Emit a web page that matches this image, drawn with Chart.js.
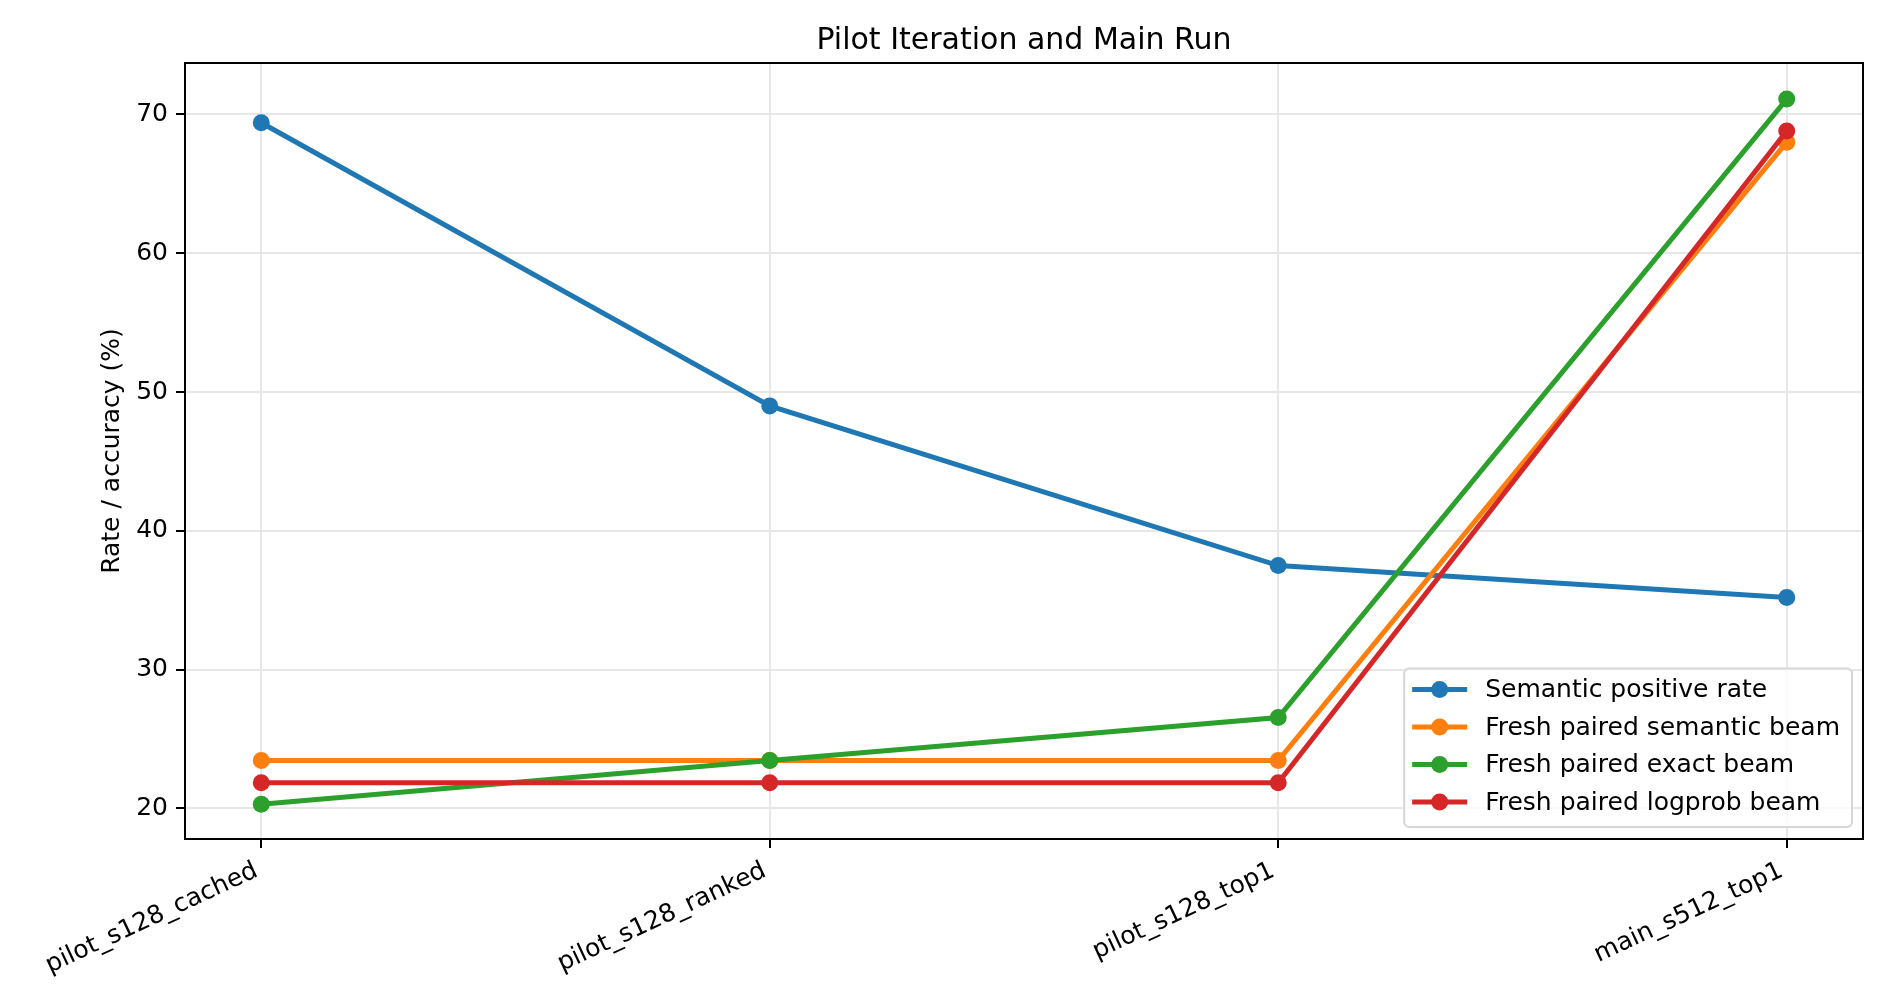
<!DOCTYPE html>
<html>
<head>
<meta charset="utf-8">
<title>Pilot Iteration and Main Run</title>
<script src="https://cdn.jsdelivr.net/npm/chart.js@4.4.1/dist/chart.umd.min.js"></script>
<style>
  html, body { margin: 0; padding: 0; background: #ffffff; }
  #wrap { width: 1890px; height: 1007px; }
</style>
</head>
<body>
<div id="wrap"><canvas id="runChart" width="1890" height="1007"></canvas></div>
<script>
// categories along the x axis
const runNames = ['pilot_s128_cached', 'pilot_s128_ranked', 'pilot_s128_top1', 'main_s512_top1'];

// series values (%)
const semanticPositive = [69.4, 49.0, 37.5, 35.2];
const freshSemanticBeam = [23.45, 23.45, 23.45, 68.0];
const freshExactBeam = [20.3, 23.45, 26.55, 71.1];
const freshLogprobBeam = [21.85, 21.85, 21.85, 68.8];

// y tick labels
const yTicks = [20, 30, 40, 50, 60, 70];

Chart.defaults.font.family = '"DejaVu Sans", sans-serif';
Chart.defaults.color = '#000000';

function toPoints(values) {
    return values.map(function(v, i) { return { x: i, y: v }; });
}

function lineSet(label, color, values, order) {
    return {
        label: label,
        data: toPoints(values),
        borderColor: color,
        backgroundColor: color,
        borderWidth: 5,
        pointRadius: 8.5,
        pointBorderWidth: 0,
        pointHoverRadius: 8.5,
        tension: 0,
        order: order
    };
}

// top and right spines
const framePlugin = {
    id: 'frame',
    afterDatasetsDraw(chart) {
        const a = chart.chartArea;
        const ctx = chart.ctx;
        ctx.save();
        ctx.strokeStyle = '#000000';
        ctx.lineWidth = 2;
        ctx.beginPath();
        ctx.moveTo(a.left, a.top);
        ctx.lineTo(a.right, a.top);
        ctx.lineTo(a.right, a.bottom);
        ctx.stroke();
        ctx.restore();
    }
};

// title centred over the plot area, like matplotlib does
const plotTitle = {
    id: 'plotTitle',
    afterDraw(chart, args, opts) {
        const a = chart.chartArea;
        const ctx = chart.ctx;
        ctx.save();
        ctx.font = '30px "DejaVu Sans"';
        ctx.fillStyle = '#000000';
        ctx.textAlign = 'center';
        ctx.textBaseline = 'alphabetic';
        ctx.fillText(opts.text, (a.left + a.right) / 2, a.top - 14);
        ctx.restore();
    }
};

// matplotlib style legend in lower right corner
const boxLegend = {
    id: 'boxLegend',
    afterDraw(chart) {
        const a = chart.chartArea;
        const ctx = chart.ctx;
        const sets = chart.data.datasets;
        ctx.save();
        ctx.font = '25px "DejaVu Sans"';
        let maxW = 0;
        sets.forEach(function(ds) { maxW = Math.max(maxW, ctx.measureText(ds.label).width); });
        const rowGap = 37.5;
        const w = 81 + maxW + 12;
        const h = 21 + (sets.length - 1) * rowGap + 25;
        const x0 = a.right - 11 - w;
        const y0 = a.bottom - 12 - h;

        ctx.beginPath();
        ctx.roundRect(x0, y0, w, h, 5);
        ctx.fillStyle = 'rgba(255,255,255,0.8)';
        ctx.fill();
        ctx.strokeStyle = '#d6d6d6';
        ctx.lineWidth = 2;
        ctx.stroke();

        sets.forEach(function(ds, i) {
            const cy = y0 + 21 + i * rowGap;
            ctx.strokeStyle = ds.borderColor;
            ctx.lineWidth = 5;
            ctx.beginPath();
            ctx.moveTo(x0 + 8, cy);
            ctx.lineTo(x0 + 63, cy);
            ctx.stroke();
            ctx.fillStyle = ds.borderColor;
            ctx.beginPath();
            ctx.arc(x0 + 35.5, cy, 8.5, 0, Math.PI * 2);
            ctx.fill();
            ctx.fillStyle = '#000000';
            ctx.textBaseline = 'middle';
            ctx.textAlign = 'left';
            ctx.fillText(ds.label, x0 + 81, cy + 1);
        });
        ctx.restore();
    }
};

const ctx = document.getElementById('runChart').getContext('2d');
const runChart = new Chart(ctx, {
    type: 'line',
    data: {
        datasets: [
            lineSet('Semantic positive rate', '#1f77b4', semanticPositive, 4),
            lineSet('Fresh paired semantic beam', '#ff7f0e', freshSemanticBeam, 3),
            lineSet('Fresh paired exact beam', '#2ca02c', freshExactBeam, 2),
            lineSet('Fresh paired logprob beam', '#d62728', freshLogprobBeam, 1)
        ]
    },
    options: {
        responsive: false,
        animation: false,
        devicePixelRatio: 1,
        layout: {
            padding: { left: 0, right: 27, top: 63, bottom: 0 }
        },
        scales: {
            x: {
                type: 'linear',
                min: -0.15,
                max: 3.15,
                afterBuildTicks: function(scale) {
                    scale.ticks = runNames.map(function(n, i) { return { value: i }; });
                },
                afterFit: function(scale) { scale.height = 168; },
                ticks: {
                    minRotation: 25,
                    maxRotation: 25,
                    padding: 8,
                    labelOffset: -5,
                    font: { size: 25 },
                    color: '#000000',
                    callback: function(value) { return runNames[value]; }
                },
                grid: {
                    color: '#e7e7e7',
                    lineWidth: 2,
                    tickColor: '#000000',
                    tickWidth: 2,
                    tickLength: 9
                },
                border: { display: true, color: '#000000', width: 2 }
            },
            y: {
                type: 'linear',
                min: 17.8,
                max: 73.7,
                afterBuildTicks: function(scale) {
                    scale.ticks = yTicks.map(function(v) { return { value: v }; });
                },
                afterFit: function(scale) { scale.width = 185; },
                ticks: {
                    padding: 8,
                    font: { size: 25 },
                    color: '#000000'
                },
                grid: {
                    color: '#e7e7e7',
                    lineWidth: 2,
                    tickColor: '#000000',
                    tickWidth: 2,
                    tickLength: 9
                },
                border: { display: true, color: '#000000', width: 2 },
                title: {
                    display: true,
                    text: 'Rate / accuracy (%)',
                    color: '#000000',
                    font: { size: 25 },
                    padding: { top: 97, bottom: 0 }
                }
            }
        },
        plugins: {
            legend: { display: false },
            tooltip: { enabled: false },
            title: { display: false },
            plotTitle: { text: 'Pilot Iteration and Main Run' }
        }
    },
    plugins: [framePlugin, plotTitle, boxLegend]
});
</script>
</body>
</html>
